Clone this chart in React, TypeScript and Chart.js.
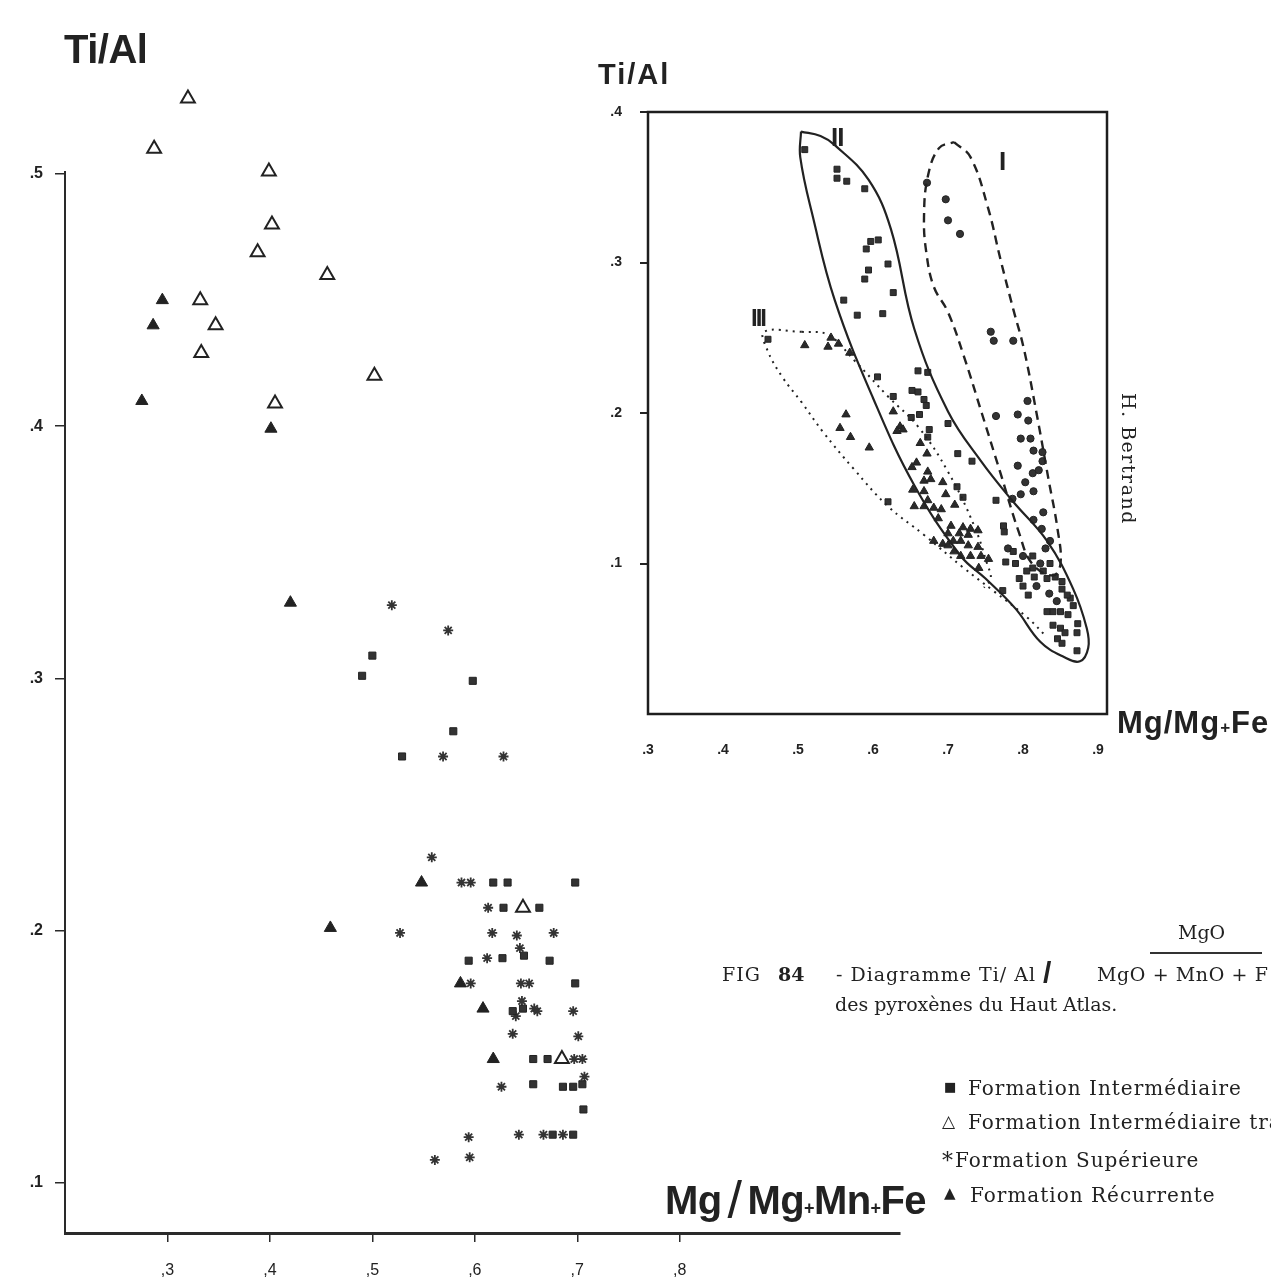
import React, { useEffect, useRef } from "react";
import { Chart, registerables } from "chart.js";

Chart.register(...registerables);

// ---------- Main diagram: tick values and labels ----------
const mainXTicks = [0.3, 0.4, 0.5, 0.6, 0.7, 0.8];
const mainXTickLabels = [",3", ",4", ",5", ",6", ",7", ",8"];
const mainYTicks = [0.1, 0.2, 0.3, 0.4, 0.5];
const mainYTickLabels = [".1", ".2", ".3", ".4", ".5"];
const mainYAxisTop = 0.5;

// Formation Intermédiaire (filled squares)
const intermediaire: [number, number][] = [
  [0.5, 0.309], [0.49, 0.301], [0.598, 0.299], [0.579, 0.279], [0.529, 0.269],
  [0.618, 0.219], [0.632, 0.219], [0.698, 0.219],
  [0.628, 0.209], [0.663, 0.209],
  [0.594, 0.188], [0.627, 0.189], [0.648, 0.19], [0.673, 0.188],
  [0.698, 0.179],
  [0.637, 0.168], [0.647, 0.169],
  [0.657, 0.149], [0.671, 0.149],
  [0.657, 0.139], [0.686, 0.138], [0.696, 0.138], [0.705, 0.139],
  [0.706, 0.129],
  [0.676, 0.119], [0.696, 0.119],
];

// Formation Intermédiaire tra... (open triangles)
const intermediaireTra: [number, number][] = [
  [0.32, 0.53], [0.287, 0.51], [0.399, 0.501], [0.402, 0.48], [0.388, 0.469],
  [0.456, 0.46], [0.332, 0.45], [0.347, 0.44], [0.333, 0.429], [0.502, 0.42],
  [0.405, 0.409], [0.647, 0.209], [0.685, 0.149],
];

// Formation Supérieure (asterisks)
const superieure: [number, number][] = [
  [0.519, 0.329], [0.574, 0.319], [0.569, 0.269], [0.628, 0.269],
  [0.558, 0.229], [0.587, 0.219], [0.596, 0.219], [0.613, 0.209],
  [0.527, 0.199], [0.617, 0.199], [0.641, 0.198], [0.677, 0.199], [0.644, 0.193],
  [0.612, 0.189], [0.596, 0.179], [0.645, 0.179], [0.653, 0.179],
  [0.64, 0.166], [0.646, 0.172], [0.658, 0.169], [0.661, 0.168], [0.696, 0.168],
  [0.637, 0.159], [0.701, 0.158], [0.697, 0.149], [0.705, 0.149], [0.707, 0.142],
  [0.626, 0.138], [0.594, 0.118], [0.643, 0.119], [0.667, 0.119], [0.686, 0.119],
  [0.561, 0.109], [0.595, 0.11],
];

// Formation Récurrente (filled triangles)
const recurrente: [number, number][] = [
  [0.295, 0.45], [0.286, 0.44], [0.275, 0.41], [0.401, 0.399], [0.42, 0.33],
  [0.459, 0.201], [0.548, 0.219], [0.586, 0.179], [0.608, 0.169], [0.618, 0.149],
];

// ---------- Inset diagram ----------
const insetXTicks = [0.3, 0.4, 0.5, 0.6, 0.7, 0.8, 0.9];
const insetXTickLabels = [".3", ".4", ".5", ".6", ".7", ".8", ".9"];
const insetYTicks = [0.1, 0.2, 0.3, 0.4];
const insetYTickLabels = [".1", ".2", ".3", ".4"];

const insetSquares: [number, number][] = [
  [0.509, 0.375], [0.552, 0.362], [0.552, 0.356], [0.565, 0.354], [0.589, 0.349],
  [0.607, 0.315], [0.597, 0.314], [0.591, 0.309], [0.62, 0.299], [0.594, 0.295],
  [0.589, 0.289], [0.627, 0.28], [0.561, 0.275], [0.579, 0.265], [0.613, 0.266],
  [0.46, 0.249], [0.606, 0.224], [0.627, 0.211], [0.62, 0.141],
  [0.66, 0.228], [0.673, 0.227], [0.652, 0.215], [0.66, 0.214], [0.668, 0.209],
  [0.671, 0.205], [0.651, 0.197], [0.662, 0.199], [0.675, 0.189], [0.673, 0.184],
  [0.7, 0.193], [0.713, 0.173], [0.732, 0.168], [0.764, 0.142], [0.712, 0.151],
  [0.72, 0.144], [0.774, 0.125], [0.775, 0.121], [0.777, 0.101], [0.787, 0.108],
  [0.773, 0.082], [0.8, 0.085], [0.807, 0.079], [0.813, 0.097], [0.813, 0.105],
  [0.832, 0.068], [0.84, 0.068], [0.85, 0.068], [0.84, 0.059], [0.85, 0.057],
  [0.856, 0.054], [0.872, 0.054], [0.846, 0.05], [0.852, 0.047], [0.872, 0.042],
  [0.873, 0.06], [0.86, 0.066], [0.867, 0.072], [0.863, 0.077], [0.852, 0.083],
  [0.859, 0.079], [0.843, 0.091], [0.852, 0.088], [0.827, 0.095], [0.832, 0.09],
  [0.815, 0.091], [0.836, 0.1], [0.795, 0.09], [0.805, 0.095], [0.79, 0.1],
];

const insetCircles: [number, number][] = [
  [0.672, 0.353], [0.697, 0.342], [0.7, 0.328], [0.716, 0.319], [0.757, 0.254],
  [0.761, 0.248], [0.787, 0.248], [0.806, 0.208], [0.764, 0.198], [0.793, 0.199],
  [0.807, 0.195], [0.797, 0.183], [0.81, 0.183], [0.814, 0.175], [0.826, 0.174],
  [0.826, 0.168], [0.793, 0.165], [0.813, 0.16], [0.821, 0.162], [0.803, 0.154],
  [0.797, 0.146], [0.786, 0.143], [0.814, 0.148], [0.827, 0.134], [0.814, 0.129],
  [0.825, 0.123], [0.836, 0.115], [0.83, 0.11], [0.823, 0.1], [0.818, 0.085],
  [0.835, 0.08], [0.845, 0.075], [0.8, 0.105], [0.78, 0.11],
];

const insetTriangles: [number, number][] = [
  [0.509, 0.245], [0.544, 0.25], [0.54, 0.244], [0.554, 0.246], [0.569, 0.24],
  [0.564, 0.199], [0.556, 0.19], [0.57, 0.184], [0.595, 0.177], [0.627, 0.201],
  [0.636, 0.191], [0.64, 0.189], [0.632, 0.188], [0.663, 0.18], [0.672, 0.173],
  [0.658, 0.167], [0.652, 0.164], [0.673, 0.161], [0.668, 0.155], [0.677, 0.156],
  [0.693, 0.154], [0.653, 0.149], [0.668, 0.148], [0.697, 0.146], [0.673, 0.142],
  [0.655, 0.138], [0.668, 0.138], [0.681, 0.137], [0.691, 0.136], [0.709, 0.139],
  [0.687, 0.13], [0.704, 0.125], [0.72, 0.124], [0.73, 0.123], [0.7, 0.12],
  [0.715, 0.12], [0.727, 0.119], [0.74, 0.122], [0.681, 0.115], [0.693, 0.113],
  [0.7, 0.112], [0.707, 0.115], [0.717, 0.115], [0.727, 0.112], [0.74, 0.111],
  [0.708, 0.108], [0.717, 0.105], [0.73, 0.105], [0.744, 0.105], [0.754, 0.103],
  [0.741, 0.097],
];

// Envelopes (I dashed, II solid, III dotted)
const envelopeI: [number, number][] = [
  [0.708, 0.38], [0.73, 0.37], [0.753, 0.337], [0.77, 0.302], [0.787, 0.269],
  [0.801, 0.243], [0.818, 0.2], [0.834, 0.156], [0.846, 0.123], [0.85, 0.1],
  [0.84, 0.092], [0.812, 0.1], [0.795, 0.12], [0.77, 0.16], [0.745, 0.2],
  [0.721, 0.238], [0.7, 0.267], [0.681, 0.284], [0.671, 0.307], [0.668, 0.33],
  [0.673, 0.357], [0.688, 0.376], [0.708, 0.38],
];
const envelopeII: [number, number][] = [
  [0.504, 0.387], [0.53, 0.384], [0.549, 0.378], [0.594, 0.355], [0.624, 0.322],
  [0.655, 0.256], [0.7, 0.201], [0.744, 0.168], [0.787, 0.141], [0.832, 0.115],
  [0.867, 0.083], [0.885, 0.057], [0.887, 0.044], [0.876, 0.035], [0.854, 0.038],
  [0.823, 0.048], [0.79, 0.07], [0.75, 0.09], [0.717, 0.105], [0.655, 0.152],
  [0.6, 0.21], [0.549, 0.275], [0.52, 0.33], [0.503, 0.37], [0.504, 0.387],
];
const envelopeIIILower: [number, number][] = [
  [0.505, 0.254], [0.455, 0.254], [0.459, 0.242], [0.479, 0.224], [0.505, 0.207],
  [0.534, 0.187], [0.574, 0.163], [0.62, 0.138], [0.668, 0.119], [0.721, 0.097],
  [0.76, 0.082], [0.806, 0.064], [0.83, 0.052],
];
const envelopeIIIUpper: [number, number][] = [
  [0.505, 0.254], [0.54, 0.252], [0.575, 0.235], [0.62, 0.211], [0.66, 0.191],
  [0.7, 0.161], [0.735, 0.125], [0.752, 0.1], [0.757, 0.09], [0.748, 0.084],
];

const toPoints = (arr: [number, number][]) => arr.map(([x, y]) => ({ x, y }));
const labelFor = (vals: number[], labels: string[], v: number) => {
  const i = vals.findIndex((t) => Math.abs(t - v) < 1e-6);
  return i >= 0 ? labels[i] : "";
};

const INK = "#2a2a2a";

function MainChart() {
  const ref = useRef<HTMLCanvasElement | null>(null);
  useEffect(() => {
    const axisLine = {
      id: "mainYAxisLine",
      beforeDatasetsDraw(chart: any) {
        const { ctx, chartArea, scales } = chart;
        const yTop = scales.y.getPixelForValue(mainYAxisTop);
        ctx.save();
        ctx.strokeStyle = INK;
        ctx.lineWidth = 2;
        ctx.beginPath();
        ctx.moveTo(chartArea.left, yTop - 3);
        ctx.lineTo(chartArea.left, chartArea.bottom);
        ctx.stroke();
        ctx.restore();
      },
    };
    const chart = new Chart(ref.current as HTMLCanvasElement, {
      type: "scatter",
      data: {
        datasets: [
          {
            label: "Formation Intermédiaire",
            data: toPoints(intermediaire),
            pointStyle: "rect",
            pointRadius: 5,
            backgroundColor: "#333",
            borderColor: "#222",
            borderWidth: 1,
          },
          {
            label: "Formation Intermédiaire tra",
            data: toPoints(intermediaireTra),
            pointStyle: "triangle",
            pointRadius: 8,
            backgroundColor: "#fff",
            borderColor: "#222",
            borderWidth: 2,
          },
          {
            label: "Formation Supérieure",
            data: toPoints(superieure),
            pointStyle: "star",
            pointRadius: 5,
            backgroundColor: "#333",
            borderColor: "#333",
            borderWidth: 1.8,
          },
          {
            label: "Formation Récurrente",
            data: toPoints(recurrente),
            pointStyle: "triangle",
            pointRadius: 7,
            backgroundColor: "#222",
            borderColor: "#222",
            borderWidth: 1,
          },
        ],
      } as any,
      options: {
        animation: false,
        responsive: false,
        maintainAspectRatio: false,
        layout: { padding: { top: 48, right: 371, left: 0, bottom: 0 } },
        plugins: { legend: { display: false }, tooltip: { enabled: false } },
        scales: {
          x: {
            type: "linear",
            min: 0.2,
            max: 1.015,
            afterFit: (s: any) => {
              s.height = 48;
            },
            afterBuildTicks: (s: any) => {
              s.ticks = mainXTicks.map((v) => ({ value: v }));
            },
            ticks: {
              callback: (v: any) => labelFor(mainXTicks, mainXTickLabels, Number(v)),
              font: { family: "Liberation Sans", size: 16 },
              color: "#222",
              padding: 19,
              maxRotation: 0,
            },
            grid: { drawOnChartArea: false, tickLength: 9, color: INK, lineWidth: 1.5 },
            border: { display: true, color: INK, width: 3 },
          },
          y: {
            type: "linear",
            min: 0.08,
            max: 0.55,
            afterFit: (s: any) => {
              s.width = 65;
            },
            afterBuildTicks: (s: any) => {
              s.ticks = mainYTicks.map((v) => ({ value: v }));
            },
            ticks: {
              callback: (v: any) => labelFor(mainYTicks, mainYTickLabels, Number(v)),
              font: { family: "Liberation Sans", size: 16, weight: "bold" },
              color: "#222",
              padding: 12,
            },
            grid: { drawOnChartArea: false, tickLength: 10, color: INK, lineWidth: 1.5 },
            border: { display: false },
          },
        },
      } as any,
      plugins: [axisLine],
    });
    return () => chart.destroy();
  }, []);
  return (
    <canvas
      ref={ref}
      width={1271}
      height={1281}
      style={{ position: "absolute", left: 0, top: 0, width: 1271, height: 1281 }}
    />
  );
}

function InsetChart() {
  const ref = useRef<HTMLCanvasElement | null>(null);
  useEffect(() => {
    const frame = {
      id: "insetFrame",
      beforeDatasetsDraw(chart: any) {
        const { ctx, chartArea } = chart;
        ctx.save();
        ctx.strokeStyle = "#1e1e1e";
        ctx.lineWidth = 2.5;
        ctx.strokeRect(chartArea.left, chartArea.top, chartArea.right - chartArea.left, chartArea.bottom - chartArea.top);
        ctx.restore();
      },
    };
    const env = (data: [number, number][], dash: number[], width: number) => ({
      data: toPoints(data),
      showLine: true,
      pointRadius: 0,
      fill: false,
      tension: 0.4,
      borderColor: "#222",
      borderWidth: width,
      borderDash: dash,
    });
    const chart = new Chart(ref.current as HTMLCanvasElement, {
      type: "scatter",
      data: {
        datasets: [
          env(envelopeII, [], 2.2),
          env(envelopeI, [9, 6], 2.4),
          env(envelopeIIILower, [2, 5], 2),
          env(envelopeIIIUpper, [2, 5], 2),
          {
            data: toPoints(insetSquares),
            pointStyle: "rect",
            pointRadius: 4.2,
            backgroundColor: "#333",
            borderColor: "#222",
            borderWidth: 1,
          },
          {
            data: toPoints(insetCircles),
            pointStyle: "circle",
            pointRadius: 3.6,
            backgroundColor: "#333",
            borderColor: "#222",
            borderWidth: 1,
          },
          {
            data: toPoints(insetTriangles),
            pointStyle: "triangle",
            pointRadius: 4.8,
            backgroundColor: "#2a2a2a",
            borderColor: "#222",
            borderWidth: 1,
          },
        ],
      } as any,
      options: {
        animation: false,
        responsive: false,
        maintainAspectRatio: false,
        layout: { padding: { top: 52, right: 164, left: 0, bottom: 0 } },
        plugins: { legend: { display: false }, tooltip: { enabled: false } },
        scales: {
          x: {
            type: "linear",
            min: 0.3,
            max: 0.912,
            afterFit: (s: any) => {
              s.height = 66;
            },
            afterBuildTicks: (s: any) => {
              s.ticks = insetXTicks.map((v) => ({ value: v }));
            },
            ticks: {
              callback: (v: any) => labelFor(insetXTicks, insetXTickLabels, Number(v)),
              font: { family: "Liberation Sans", size: 14, weight: "bold" },
              color: "#222",
              padding: 20,
              maxRotation: 0,
            },
            grid: { display: false },
            border: { display: false },
          },
          y: {
            type: "linear",
            min: 0,
            max: 0.4,
            afterFit: (s: any) => {
              s.width = 58;
            },
            afterBuildTicks: (s: any) => {
              s.ticks = insetYTicks.map((v) => ({ value: v }));
            },
            ticks: {
              callback: (v: any) => labelFor(insetYTicks, insetYTickLabels, Number(v)),
              font: { family: "Liberation Sans", size: 14, weight: "bold" },
              color: "#222",
              padding: 18,
            },
            grid: { drawOnChartArea: false, tickLength: 8, color: "#222", lineWidth: 2 },
            border: { display: false },
          },
        },
      } as any,
      plugins: [frame],
    });
    return () => chart.destroy();
  }, []);
  return (
    <canvas
      ref={ref}
      width={681}
      height={720}
      style={{ position: "absolute", left: 590, top: 60, width: 681, height: 720 }}
    />
  );
}

const T = (props: { left: number; top: number; size: number; bold?: boolean; serif?: boolean; ls?: number; children: any; style?: any }) => (
  <div
    style={{
      position: "absolute",
      left: props.left,
      top: props.top,
      fontSize: props.size,
      lineHeight: 1,
      fontWeight: props.bold ? 700 : 400,
      fontFamily: props.serif ? "'DejaVu Serif', 'Liberation Serif', serif" : "'Liberation Sans', Arial, sans-serif",
      letterSpacing: props.ls ?? 0,
      color: "#222",
      whiteSpace: "nowrap",
      ...(props.style || {}),
    }}
  >
    {props.children}
  </div>
);

export default function App() {
  return (
    <div
      style={{
        position: "absolute",
        left: 0,
        top: 0,
        width: 1271,
        height: 1281,
        overflow: "hidden",
        background: "#fff",
      }}
    >
      <MainChart />
      <InsetChart />

      {/* Main titles */}
      <T left={64} top={29} size={40} bold ls={-0.5}>Ti/Al</T>
      <T left={665} top={1170} size={40} bold ls={-0.6}>
        Mg<span style={{ fontWeight: 300, fontSize: 52, margin: "0 6px", position: "relative", top: 4 }}>/</span>Mg
        <span style={{ fontSize: 18 }}>+</span>Mn<span style={{ fontSize: 18 }}>+</span>Fe
      </T>

      {/* Inset titles */}
      <T left={598} top={60} size={29} bold ls={2}>Ti/Al</T>
      <T left={1117} top={707} size={31} bold ls={1}>
        Mg/Mg<span style={{ fontSize: 17 }}>+</span>Fe
      </T>
      <T left={831} top={124} size={26} bold ls={-1}>II</T>
      <T left={999} top={148} size={26} bold>I</T>
      <T left={751} top={306} size={24} bold ls={-2}>III</T>

      {/* Vertical credit */}
      <T left={1119} top={393} size={19} serif ls={1.5} style={{ writingMode: "vertical-rl" }}>
        H. Bertrand
      </T>

      {/* Caption */}
      <T left={1178} top={923} size={19} serif>MgO</T>
      <div style={{ position: "absolute", left: 1150, top: 952, width: 112, height: 2, background: "#333" }} />
      <T left={722} top={965} size={19} serif ls={1}>FIG</T>
      <T left={778} top={965} size={19} serif bold>84</T>
      <T left={836} top={965} size={19} serif ls={1}>- Diagramme Ti/ Al</T>
      <T left={1043} top={958} size={30} bold>/</T>
      <T left={1097} top={965} size={19} serif ls={0.6}>MgO + MnO + F</T>
      <T left={835} top={995} size={19} serif>des pyroxènes du  Haut Atlas.</T>

      {/* Legend */}
      <T left={944} top={1080} size={13} serif>■</T>
      <T left={968} top={1078} size={20} serif ls={1}>Formation Intermédiaire</T>
      <T left={942} top={1113} size={17} serif>△</T>
      <T left={968} top={1112} size={20} serif ls={1}>Formation Intermédiaire tra</T>
      <T left={942} top={1150} size={22} serif>*</T>
      <T left={955} top={1150} size={20} serif ls={1}>Formation Supérieure</T>
      <T left={944} top={1186} size={15} serif>▲</T>
      <T left={970} top={1185} size={20} serif ls={1}>Formation Récurrente</T>
    </div>
  );
}
